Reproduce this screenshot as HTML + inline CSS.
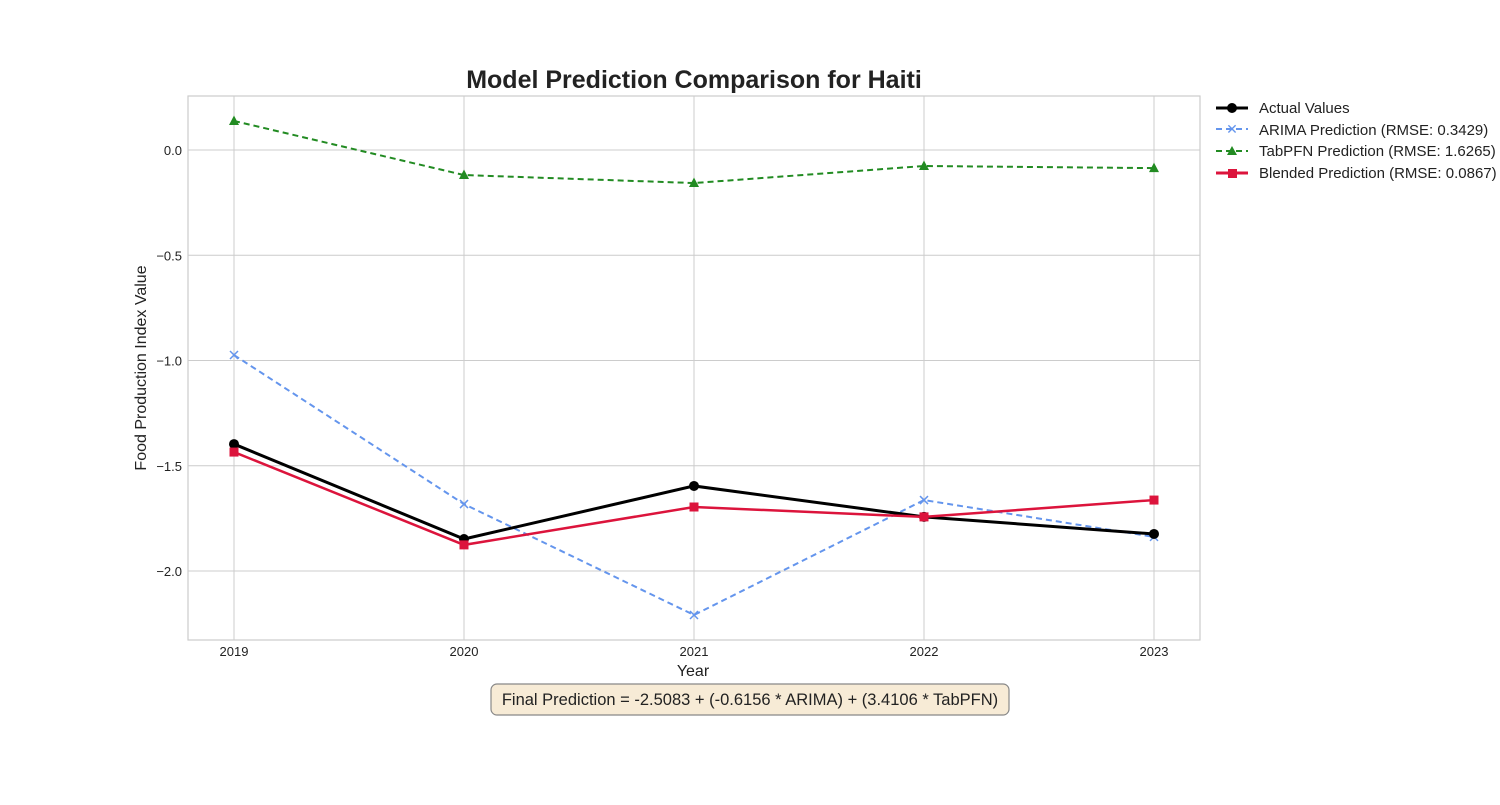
<!DOCTYPE html>
<html><head><meta charset="utf-8"><style>
body{margin:0;background:#fff;width:1500px;height:800px;overflow:hidden;font-family:"Liberation Sans",sans-serif}
</style></head><body>
<svg width="1500" height="800" xmlns="http://www.w3.org/2000/svg" font-family="Liberation Sans, sans-serif">
<text x="694" y="88" text-anchor="middle" font-size="25" font-weight="bold" fill="#222">Model Prediction Comparison for Haiti</text>
<g id="grid"></g>
<rect x="188" y="96" width="1012" height="544" fill="none" stroke="#ccc" stroke-width="1.2"/>
<g id="series"></g>
<text x="693" y="676" text-anchor="middle" font-size="16" fill="#222">Year</text>
<text transform="translate(146,368) rotate(-90)" text-anchor="middle" font-size="16" fill="#222">Food Production Index Value</text>
<g font-size="15" fill="#222">
<g><line x1="1216" y1="108" x2="1248" y2="108" stroke="#000" stroke-width="3"/><circle cx="1232" cy="108" r="5" fill="#000"/><text x="1259" y="113">Actual Values</text></g>
<g><line x1="1216" y1="129" x2="1248" y2="129" stroke="#6495ED" stroke-width="2" stroke-dasharray="6,4"/><text x="1232" y="134" text-anchor="middle" fill="#6495ED" font-size="14">✕</text><text x="1259" y="135">ARIMA Prediction (RMSE: 0.3429)</text></g>
<g><line x1="1216" y1="151" x2="1248" y2="151" stroke="#228B22" stroke-width="2" stroke-dasharray="6,4"/><path d="M1232,146 L1237,155 L1227,155Z" fill="#228B22"/><text x="1259" y="156">TabPFN Prediction (RMSE: 1.6265)</text></g>
<g><line x1="1216" y1="173" x2="1248" y2="173" stroke="#DC143C" stroke-width="3"/><rect x="1228" y="169" width="9" height="9" fill="#DC143C"/><text x="1259" y="178">Blended Prediction (RMSE: 0.0867)</text></g>
</g>
<g>
<rect x="491" y="684" width="518" height="31" rx="6" fill="#F7EBD6" stroke="#888" stroke-width="1.2"/>
<text x="750" y="705" text-anchor="middle" font-size="16.5" fill="#222">Final Prediction = -2.5083 + (-0.6156 * ARIMA) + (3.4106 * TabPFN)</text>
</g>
</svg>
<script>
const years=[2019,2020,2021,2022,2023];
const yTicks=[0,-0.5,-1,-1.5,-2];
const yTickLabels=["0.0","\u22120.5","\u22121.0","\u22121.5","\u22122.0"];
const actual=[-1.397,-1.848,-1.596,-1.743,-1.824];
const arima=[-0.974,-1.682,-2.209,-1.663,-1.838];
const tabpfn=[0.138,-0.119,-0.157,-0.076,-0.086];
const blended=[-1.435,-1.876,-1.696,-1.743,-1.663];
const NS="http://www.w3.org/2000/svg";
const X=v=>234+(v-2019)*230;
const Y=v=>150-v*210.5;
function mk(t,a,p){const e=document.createElementNS(NS,t);for(const k in a)e.setAttribute(k,a[k]);p.appendChild(e);return e;}
const grid=document.getElementById('grid');
years.forEach(yr=>{
 const l=mk('line',{x1:X(yr),x2:X(yr),y1:96,y2:640,stroke:'#ccc','stroke-width':1},grid);
 
 
 const t=mk('text',{x:X(yr),y:656,'text-anchor':'middle','font-size':13,fill:'#222'},grid);t.textContent=yr;
 
 
});
yTicks.forEach((v,i)=>{
 const l=mk('line',{x1:188,x2:1200,y1:Y(v),y2:Y(v),stroke:'#ccc','stroke-width':1},grid);
 
 
 const t=mk('text',{x:182,y:Y(v)+5,'text-anchor':'end','font-size':13,fill:'#222'},grid);t.textContent=yTickLabels[i];
 
 
});
const sg=document.getElementById('series');
function series(vals,name,color,w,dash,marker){
 const g=mk('g',{},sg);
 
 
 const pts=vals.map((v,i)=>X(years[i])+','+Y(v)).join(' ');
 const a={points:pts,fill:'none',stroke:color,'stroke-width':w};if(dash)a['stroke-dasharray']=dash;
 mk('polyline',a,g);
 vals.forEach((v,i)=>{const x=X(years[i]),y=Y(v);let m;
  if(marker==='o')m=mk('circle',{cx:x,cy:y,r:5,fill:color},g);
  else if(marker==='s')m=mk('rect',{x:x-4.5,y:y-4.5,width:9,height:9,fill:color},g);
  else if(marker==='^')m=mk('path',{d:`M${x},${y-5.5}L${x+5},${y+4}L${x-5},${y+4}Z`,fill:color},g);
  else m=mk('path',{d:`M${x-4},${y-4}L${x+4},${y+4}M${x+4},${y-4}L${x-4},${y+4}`,stroke:color,'stroke-width':1.5},g);
  
  
 });
}
series(tabpfn,'tabpfn-series','#228B22',2,'6,4','^');
series(arima,'arima-series','#6495ED',2,'6,4','x');
series(actual,'actual-series','#000',3,null,'o');
series(blended,'blended-series','#DC143C',2.5,null,'s');
</script>
</body></html>
